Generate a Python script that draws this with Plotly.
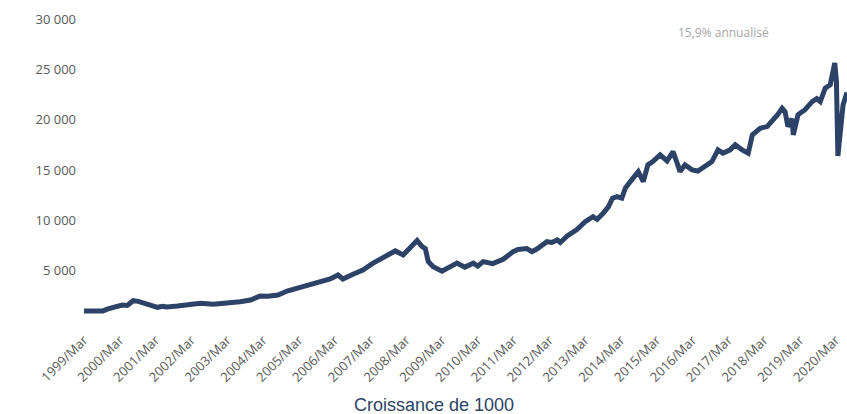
import plotly.graph_objects as go

dates = [
    "1999-03-01", "1999-06-20", "1999-09-10", "1999-11-01", "2000-01-01", "2000-03-25",
    "2000-05-15", "2000-07-15", "2000-09-05", "2000-11-15", "2001-01-05", "2001-03-20",
    "2001-05-10", "2001-06-25", "2001-10-10", "2002-01-20", "2002-06-01", "2002-10-10",
    "2003-03-01", "2003-07-10", "2003-10-25", "2004-02-01", "2004-04-20", "2004-08-01",
    "2004-11-01", "2005-03-10", "2005-07-25", "2005-11-05", "2006-01-15", "2006-04-05",
    "2006-05-25", "2006-09-05", "2006-12-15", "2007-03-25", "2007-07-05", "2007-11-10",
    "2008-01-30", "2008-04-10", "2008-06-20", "2008-08-10", "2008-09-12", "2008-10-12",
    "2008-12-01", "2009-03-01", "2009-05-20", "2009-08-01", "2009-10-20", "2010-01-15",
    "2010-03-01", "2010-04-25", "2010-08-01", "2010-11-15", "2011-02-25", "2011-04-15",
    "2011-07-15", "2011-09-05", "2011-10-25", "2012-02-05", "2012-03-25", "2012-05-20",
    "2012-06-20", "2012-08-30", "2012-12-10", "2013-03-01", "2013-05-20", "2013-07-01",
    "2013-09-01", "2013-10-25", "2013-12-05", "2014-01-20", "2014-03-10", "2014-04-15",
    "2014-06-01", "2014-08-25", "2014-10-15", "2014-12-01", "2015-01-20", "2015-04-05",
    "2015-06-15", "2015-08-15", "2015-09-20", "2015-10-25", "2015-12-15", "2016-02-25",
    "2016-04-25", "2016-07-05", "2016-09-15", "2016-11-15", "2017-01-05", "2017-03-20",
    "2017-05-10", "2017-07-20", "2017-09-20", "2017-11-01", "2018-01-20", "2018-04-01",
    "2018-05-20", "2018-07-15", "2018-09-01", "2018-10-01", "2018-10-30", "2018-12-10",
    "2018-12-24", "2019-02-10", "2019-04-20", "2019-07-05", "2019-08-20", "2019-09-25",
    "2019-11-15", "2020-01-05", "2020-02-20", "2020-03-08", "2020-03-23", "2020-04-25",
    "2020-05-15", "2020-06-24",
]
values = [
    1000, 980, 1000, 1200, 1390, 1590,
    1550, 2020, 1950, 1690, 1600, 1360,
    1450, 1400, 1490, 1590, 1760, 1660,
    1760, 1920, 2090, 2490, 2450, 2580,
    2980, 3310, 3750, 3980, 4170, 4570,
    4170, 4640, 5070, 5730, 6230, 6960,
    6560, 7230, 8000, 7390, 7200, 5900,
    5400, 4950, 5400, 5750, 5350, 5740,
    5450, 5900, 5700, 6130, 6890, 7100,
    7200, 6890, 7150, 7880, 7800, 8050,
    7800, 8450, 9110, 9870, 10370, 10100,
    10700, 11360, 12200, 12350, 12200, 13190,
    13800, 14840, 13850, 15510, 15840, 16500,
    15900, 16830, 15840, 14840, 15510, 15010,
    14900, 15340, 15840, 17000, 16670, 17000,
    17500, 17000, 16670, 18490, 19150, 19310,
    19810, 20480, 21140, 20800, 19310, 20100,
    18490, 20480, 20970, 21800, 22100, 21800,
    23130, 23460, 25620, 23790, 16400, 20000,
    21470, 22700,
]

tick_years = list(range(1999, 2021))
tick_dates = [f"{y}-03-01" for y in tick_years]
tick_labels = [f"{y}/Mar" for y in tick_years]

y_ticks = [5000, 10000, 15000, 20000, 25000, 30000]
y_labels = ["5 000", "10 000", "15 000", "20 000", "25 000", "30 000"]

line_color = "#2C4367"
tick_font = dict(family="Open Sans", size=13, color="#595959")

fig = go.Figure()
fig.add_trace(go.Scatter(
    x=dates, y=values, mode="lines",
    line=dict(color=line_color, width=5),
    hoverinfo="skip", showlegend=False,
))

fig.update_layout(
    width=847, height=414,
    margin=dict(l=84, r=0, t=19, b=93, autoexpand=False),
    paper_bgcolor="white", plot_bgcolor="white",
    annotations=[
        dict(
            text="15,9% annualisé", x=(723.5 - 84) / 763, y=(321 - 32.5) / 302,
            xref="paper", yref="paper", showarrow=False,
            font=dict(family="Open Sans", size=12, color="#A6A6A6"),
            xanchor="center", yanchor="middle",
        ),
        dict(
            text="Croissance de 1000", x=(433.5 - 84) / 763, y=(321 - 405) / 302,
            xref="paper", yref="paper", showarrow=False,
            font=dict(family="Liberation Sans", size=18, color="#2C4367"),
            xanchor="center", yanchor="middle",
        ),
    ],
)
fig.update_xaxes(
    type="date", range=["1999-03-01", "2020-06-24"], automargin=False,
    tickvals=tick_dates, ticktext=tick_labels, tickangle=-45,
    tickfont=tick_font, showgrid=False, zeroline=False, showline=False,
    ticks="", ticklabelstandoff=8,
)
fig.update_yaxes(
    range=[0, 30000], tickvals=y_ticks, ticktext=y_labels, automargin=False,
    tickfont=tick_font, showgrid=False, zeroline=False, showline=False,
    ticks="", ticklabelstandoff=7,
)

fig.write_html(
    "out.html",
    config={"displayModeBar": False},
    post_script="document.body.style.margin='0';document.body.style.overflow='hidden';",
)
